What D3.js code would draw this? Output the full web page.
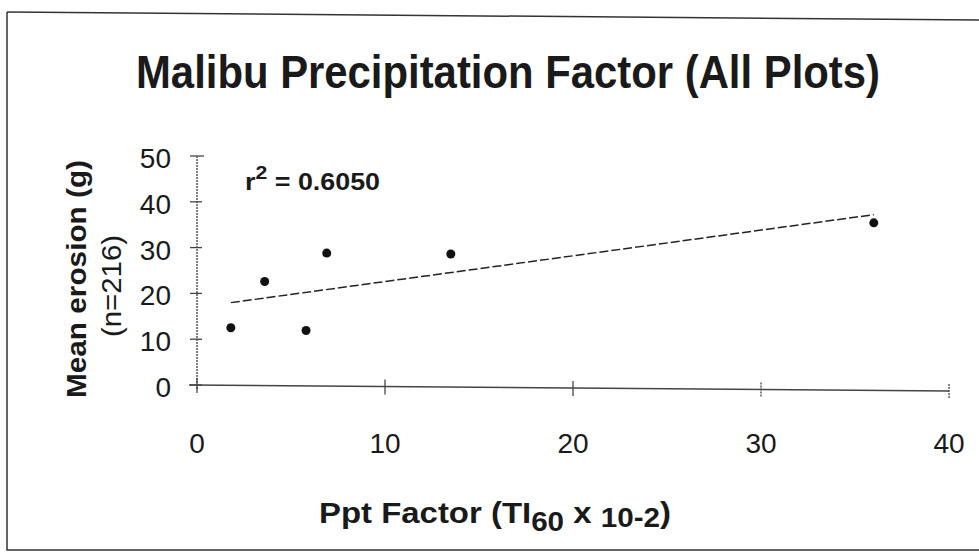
<!DOCTYPE html>
<html>
<head>
<meta charset="utf-8">
<script src="https://cdn.jsdelivr.net/npm/d3@7"></script>
<style>
  body { margin: 0; background: #fff; }
  text { font-family: "Liberation Sans", Arial, sans-serif; fill: #1a1a1a; }
</style>
</head>
<body>
<svg id="chart"></svg>
<script>
// DATOS
const pptFactor = [1.8, 3.6, 5.8, 6.9, 13.5, 36.0];
const meanErosion = [12.5, 22.6, 11.9, 28.8, 28.6, 35.4];
const xTicks = [0, 10, 20, 30, 40];
const yTicks = [0, 10, 20, 30, 40, 50];
const rSquaredLabel = "0.6050";

const width = 979;
const height = 552;

const svg = d3.select("#chart")
  .attr("width", width)
  .attr("height", height);

// MARCO (escaneado)
svg.append("path")
  .attr("d", "M7,12 L979,20")
  .attr("stroke", "#333").attr("stroke-width", 1.5).attr("fill", "none");
svg.append("path")
  .attr("d", "M7,12 L7,550 L979,550")
  .attr("stroke", "#333").attr("stroke-width", 1.5).attr("fill", "none");

// ESCALAS
const x = d3.scaleLinear().domain([0, 40]).range([197, 949]);
const y = d3.scaleLinear().domain([0, 50]).range([385, 156]);

// TITULO
svg.append("text")
  .attr("x", 508).attr("y", 88)
  .attr("text-anchor", "middle")
  .attr("font-size", 47).attr("font-weight", "bold")
  .attr("textLength", 744).attr("lengthAdjust", "spacingAndGlyphs")
  .text("Malibu Precipitation Factor (All Plots)");

// EJE Y
const yAxis = svg.append("g");
yAxis.append("line")
  .attr("x1", x(0)).attr("x2", x(0))
  .attr("y1", y(50)).attr("y2", y(0) + 4)
  .attr("stroke", "#555").attr("stroke-width", 1.5)
  .attr("stroke-dasharray", "2,1");
yAxis.selectAll(".ytick")
  .data(yTicks)
  .enter().append("line")
  .attr("x1", d => x(0) - 7).attr("x2", d => x(0) + (d === 50 ? 7 : 5))
  .attr("y1", d => y(d)).attr("y2", d => y(d))
  .attr("stroke", "#444").attr("stroke-width", 1.3);
yAxis.selectAll(".ylabel")
  .data(yTicks)
  .enter().append("text")
  .attr("x", 171).attr("y", d => y(d) + 12)
  .attr("text-anchor", "end")
  .attr("font-size", 28)
  .text(d => d);

// EJE X
const xAxis = svg.append("g");
xAxis.append("line")
  .attr("x1", x(0) - 8).attr("x2", x(40))
  .attr("y1", y(0)).attr("y2", y(0) + 6)
  .attr("stroke", "#444").attr("stroke-width", 1.4);
xAxis.selectAll(".xtick")
  .data(xTicks)
  .enter().append("line")
  .attr("x1", d => x(d)).attr("x2", d => x(d))
  .attr("y1", d => y(0) - 7 + d * 0.15).attr("y2", d => y(0) + 8 + d * 0.15)
  .attr("stroke", "#444").attr("stroke-width", 1.3)
  .attr("stroke-dasharray", d => (d === 30 || d === 40) ? "2,1" : null);
xAxis.selectAll(".xlabel")
  .data(xTicks)
  .enter().append("text")
  .attr("x", d => x(d)).attr("y", 453)
  .attr("text-anchor", "middle")
  .attr("font-size", 28)
  .text(d => d);

// TITULO EJE X
const xt = svg.append("text")
  .attr("x", 495).attr("y", 523)
  .attr("text-anchor", "middle")
  .attr("font-size", 30).attr("font-weight", "bold")
  .attr("textLength", 352).attr("lengthAdjust", "spacingAndGlyphs");
xt.append("tspan").text("Ppt Factor (TI");
xt.append("tspan").attr("dy", 8).attr("font-size", 27).text("60");
xt.append("tspan").attr("dy", -8).text(" x ");
xt.append("tspan").attr("dy", 4).attr("font-size", 27).text("10-2");
xt.append("tspan").attr("dy", -4).text(")");

// TITULO EJE Y
svg.append("text")
  .attr("transform", "translate(86,279) rotate(-90)")
  .attr("text-anchor", "middle")
  .attr("font-size", 27).attr("font-weight", "bold")
  .attr("textLength", 238).attr("lengthAdjust", "spacingAndGlyphs")
  .text("Mean erosion (g)");
svg.append("text")
  .attr("transform", "translate(121,286) rotate(-90)")
  .attr("text-anchor", "middle")
  .attr("font-size", 28)
  .attr("textLength", 102).attr("lengthAdjust", "spacingAndGlyphs")
  .text("(n=216)");

// REGRESION LINEAL
const mx = d3.mean(pptFactor);
const my = d3.mean(meanErosion);
const sxy = d3.sum(pptFactor, (v, i) => (v - mx) * (meanErosion[i] - my));
const sxx = d3.sum(pptFactor, v => (v - mx) * (v - mx));
const slope = sxy / sxx;
const intercept = my - slope * mx;
const [x0, x1] = d3.extent(pptFactor);

svg.append("line")
  .attr("x1", x(x0)).attr("y1", y(intercept + slope * x0))
  .attr("x2", x(x1)).attr("y2", y(intercept + slope * x1))
  .attr("stroke", "#222").attr("stroke-width", 1.5)
  .attr("stroke-dasharray", "9,3");

// PUNTOS
svg.selectAll(".dot")
  .data(pptFactor.map((v, i) => ({ px: v, py: meanErosion[i] })))
  .enter().append("circle")
  .attr("cx", d => x(d.px)).attr("cy", d => y(d.py))
  .attr("r", 4.5)
  .attr("fill", "#111");

// ETIQUETA R2
const r2 = svg.append("text")
  .attr("x", 245).attr("y", 190)
  .attr("font-size", 24).attr("font-weight", "bold")
  .attr("textLength", 135).attr("lengthAdjust", "spacingAndGlyphs");
r2.append("tspan").text("r");
r2.append("tspan").attr("dy", -11).attr("font-size", 19).text("2");
r2.append("tspan").attr("dy", 11).text(" = " + rSquaredLabel);
</script>
</body>
</html>
